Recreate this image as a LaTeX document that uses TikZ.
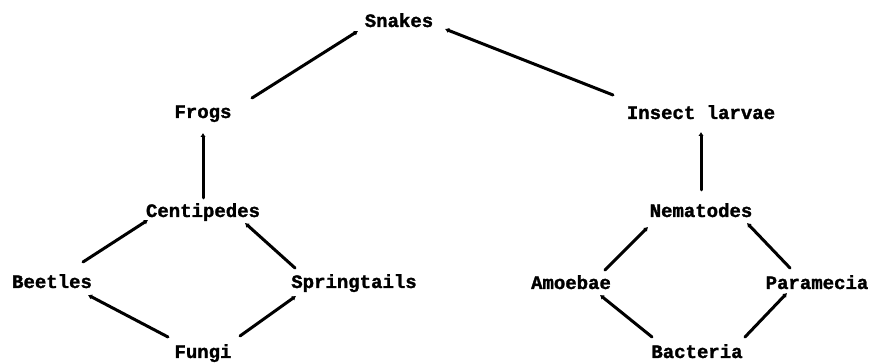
\documentclass[tikz,border=0pt]{standalone}
\usepackage{fontspec}
\setmonofont[BoldFeatures={FakeBold=1.5}]{Liberation Mono}
\usetikzlibrary{arrows.meta,positioning,calc}

\tikzset{
  animal/.style={font=\ttfamily\bfseries\fontsize{19}{21}\selectfont, text height=14pt, text depth=4pt, inner sep=2pt},
  feeds/.style={-{Latex[length=4pt,width=5.5pt]}, line width=3pt, line cap=round}
}

\begin{document}
\begin{tikzpicture}[on grid]
                \useasboundingbox (0,0) rectangle (875pt,363pt);
                \node[animal] (snakes) at (399pt,341pt) {Snakes};
                \node[animal, below left=91pt and 196pt of snakes] (frogs) {Frogs};
                \node[animal, below right=92pt and 302pt of snakes] (larvae) {Insect larvae};
                \node[animal, below=99pt of frogs] (centipedes) {Centipedes};
                \node[animal, below=98pt of larvae] (nematodes) {Nematodes};
                \node[animal, below left=71pt and 151pt of centipedes] (beetles) {Beetles};
                \node[animal, below right=71pt and 151pt of centipedes] (springtails) {Springtails};
                \node[animal, below=141pt of centipedes] (fungi) {Fungi};
                \node[animal, below left=72pt and 130pt of nematodes] (amoebae) {Amoebae};
                \node[animal, below right=72pt and 116pt of nematodes] (paramecia) {Paramecia};
                \node[animal, below left=141pt and 4pt of nematodes] (bacteria) {Bacteria};
                % left web
                \draw[feeds] ($(frogs)+(49pt,15pt)$) -- ($(snakes)+(-41pt,-9pt)$);
                \draw[feeds] ($(centipedes)+(0pt,14pt)$) -- ($(frogs)+(0pt,-20pt)$);
                \draw[feeds] ($(beetles)+(31pt,21pt)$) -- ($(centipedes)+(-55pt,-8pt)$);
                \draw[feeds] ($(springtails)+(-59pt,15pt)$) -- ($(centipedes)+(42pt,-11pt)$);
                \draw[feeds] ($(fungi)+(-35pt,16pt)$) -- ($(beetles)+(36pt,-12pt)$);
                \draw[feeds] ($(fungi)+(37pt,17pt)$) -- ($(springtails)+(-58pt,-13pt)$);
                % right web
                \draw[feeds] ($(larvae)+(-88pt,19pt)$) -- ($(snakes)+(46pt,-7pt)$);
                \draw[feeds] ($(nematodes)+(0pt,22pt)$) -- ($(larvae)+(0pt,-18pt)$);
                \draw[feeds] ($(amoebae)+(34pt,14pt)$) -- ($(nematodes)+(-53pt,-15pt)$);
                \draw[feeds] ($(paramecia)+(-27pt,16pt)$) -- ($(nematodes)+(46pt,-11pt)$);
                \draw[feeds] ($(bacteria)+(-45pt,16pt)$) -- ($(amoebae)+(29pt,-11pt)$);
                \draw[feeds] ($(bacteria)+(48pt,16pt)$) -- ($(paramecia)+(-30pt,-9pt)$);
            \end{tikzpicture}
\end{document}
